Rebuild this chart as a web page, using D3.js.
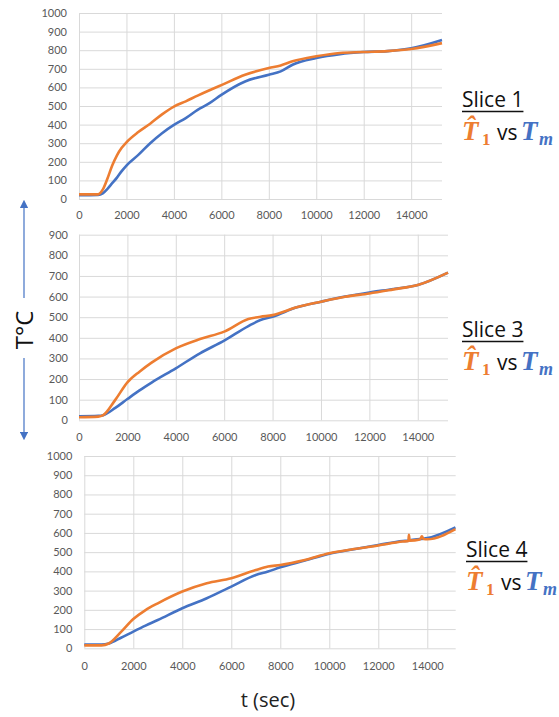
<!DOCTYPE html>
<html>
<head>
<meta charset="utf-8">
<script src="https://cdn.jsdelivr.net/npm/d3@7"></script>
<style>
  html, body { margin: 0; padding: 0; background: #fff; }
  svg { display: block; }
</style>
</head>
<body>
<svg id="chart" width="559" height="717"></svg>
<script>
// Time axis ticks (seconds) shared by all three panels
const timeTicks = [0, 2000, 4000, 6000, 8000, 10000, 12000, 14000];

// Slice 1 — estimated (orange) and measured (blue) temperatures, °C
const slice1Time = [0, 800, 1000, 1200, 1400, 1600, 1800, 2000, 2500, 3000, 3500, 4000, 4500, 5000, 5500, 6000, 7000, 8000, 8500, 9000, 10000, 11000, 12000, 13000, 14000, 15300];
const slice1Est  = [25, 25, 50, 110, 180, 235, 275, 305, 360, 405, 455, 497, 525, 556, 585, 612, 668, 704, 718, 740, 767, 785, 790, 795, 806, 838];
const slice1Meas = [20, 22, 30, 55, 85, 115, 150, 180, 237, 300, 354, 399, 435, 479, 515, 560, 632, 668, 686, 722, 758, 779, 790, 795, 810, 855];

// Slice 3
const slice3Time = [0, 800, 1000, 1500, 2000, 2500, 3000, 4000, 5000, 6000, 7000, 7500, 8000, 9000, 10000, 11000, 12000, 13000, 14000, 15250];
const slice3Est  = [15, 18, 25, 99, 184, 236, 280, 349, 394, 430, 491, 502, 510, 548, 575, 599, 615, 635, 656, 716];
const slice3Meas = [20, 22, 25, 60, 103, 145, 183, 252, 325, 386, 457, 486, 502, 548, 575, 600, 620, 637, 656, 716];

// Slice 4
const slice4Time = [0, 700, 1000, 1500, 2000, 2500, 3000, 4000, 5000, 6000, 7000, 7500, 8000, 9000, 10000, 11000, 12000, 13000, 13230, 13250, 13280, 13700, 13780, 13850, 14000, 15150];
const slice4Est  = [15, 15, 25, 85, 152, 199, 234, 295, 338, 364, 407, 425, 433, 459, 494, 516, 535, 555, 558, 590, 560, 566, 582, 568, 567, 620];
const slice4Meas = [20, 20, 25, 55, 87, 118, 147, 208, 260, 321, 381, 399, 421, 456, 492, 515, 537, 558, 560, 561, 562, 568, 569, 570, 573, 629];

const yTicks1000 = d3.range(0, 1001, 100);
const yTicks900  = d3.range(0, 901, 100);

const ORANGE = "#ED7D31";
const BLUE = "#4472C4";
const GRID = "#d9d9d9";
const TICK_TEXT = "#595959";
const TICK_FONT = "Lato, 'Open Sans', sans-serif";
const MATH_FONT = "'Liberation Serif', 'DejaVu Serif', serif";
const plain = d3.format("d");

const svg = d3.select("#chart");

function panel(cfg) {
  const x = d3.scaleLinear().domain([0, cfg.tMax]).range([cfg.left, cfg.right]);
  const y = d3.scaleLinear().domain([0, cfg.yMax]).range([cfg.bottom, cfg.top]);
  const g = svg.append("g");

  // horizontal gridlines
  g.append("g")
    .attr("transform", `translate(${cfg.left},0)`)
    .call(d3.axisLeft(y).tickValues(cfg.yTicks).tickSize(-(cfg.right - cfg.left)).tickFormat(""))
    .call(a => a.select(".domain").remove())
    .call(a => a.selectAll("line").attr("stroke", GRID).attr("stroke-width", 1));

  // vertical gridlines
  g.append("g")
    .attr("transform", `translate(0,${cfg.bottom})`)
    .call(d3.axisBottom(x).tickValues(timeTicks).tickSize(-(cfg.bottom - cfg.top)).tickFormat(""))
    .call(a => a.select(".domain").remove())
    .call(a => a.selectAll("line").attr("stroke", GRID).attr("stroke-width", 1));

  // y tick labels
  g.append("g")
    .attr("transform", `translate(${cfg.left},0)`)
    .call(d3.axisLeft(y).tickValues(cfg.yTicks).tickSize(0).tickPadding(cfg.yPad).tickFormat(plain))
    .call(a => a.select(".domain").remove())
    .call(a => a.selectAll("text")
      .attr("fill", TICK_TEXT)
      .style("font-family", TICK_FONT)
      .style("font-size", "11px"));

  // x tick labels
  g.append("g")
    .attr("transform", `translate(0,${cfg.bottom})`)
    .call(d3.axisBottom(x).tickValues(timeTicks).tickSize(0).tickPadding(cfg.xPad).tickFormat(plain))
    .call(a => a.select(".domain").remove())
    .call(a => a.selectAll("text")
      .attr("fill", TICK_TEXT)
      .style("font-family", TICK_FONT)
      .style("font-size", "11px"));

  const line = d3.line()
    .x(d => x(d[0]))
    .y(d => y(d[1]))
    .curve(d3.curveMonotoneX);

  const meas = cfg.time.map((t, i) => [t, cfg.meas[i]]);
  const est = cfg.time.map((t, i) => [t, cfg.est[i]]);

  g.append("path").datum(meas)
    .attr("d", line).attr("fill", "none")
    .attr("stroke", BLUE).attr("stroke-width", 2.6).attr("stroke-linejoin", "round");
  g.append("path").datum(est)
    .attr("d", line).attr("fill", "none")
    .attr("stroke", ORANGE).attr("stroke-width", 2.6).attr("stroke-linejoin", "round");

  // slice caption
  const cap = svg.append("g").attr("transform", `translate(${cfg.capX},${cfg.capY})`);
  const title = cap.append("text")
    .attr("x", 0).attr("y", 0)
    .style("font-family", "'Open Sans', Lato, sans-serif")
    .style("font-size", "21px")
    .attr("fill", "#111")
    .text(cfg.title);
  const tw = title.node().getComputedTextLength();
  cap.append("line")
    .attr("x1", 0).attr("x2", tw)
    .attr("y1", 4.5).attr("y2", 4.5)
    .attr("stroke", "#111").attr("stroke-width", 1.4);

  // estimated vs measured legend line
  const base = 33;
  cap.append("text")
    .attr("x", 0).attr("y", base)
    .style("font-family", MATH_FONT)
    .style("font-style", "italic").style("font-weight", "bold")
    .style("font-size", "27px")
    .attr("fill", ORANGE)
    .text("T\u0302");
  cap.append("text")
    .attr("x", 20).attr("y", base + 5)
    .style("font-family", MATH_FONT)
    .style("font-weight", "bold")
    .style("font-size", "17px")
    .attr("fill", ORANGE)
    .text("1");
  cap.append("text")
    .attr("x", 35).attr("y", base)
    .style("font-family", "'Open Sans', Lato, sans-serif")
    .style("font-size", "21px")
    .attr("fill", "#111")
    .text("vs");
  cap.append("text")
    .attr("x", 59).attr("y", base)
    .style("font-family", MATH_FONT)
    .style("font-style", "italic").style("font-weight", "bold")
    .style("font-size", "27px")
    .attr("fill", BLUE)
    .text("T");
  cap.append("text")
    .attr("x", 77).attr("y", base + 5)
    .style("font-family", MATH_FONT)
    .style("font-style", "italic").style("font-weight", "bold")
    .style("font-size", "18px")
    .attr("fill", BLUE)
    .text("m");
}

panel({
  time: slice1Time, est: slice1Est, meas: slice1Meas,
  tMax: 15300, yMax: 1000, yTicks: yTicks1000,
  left: 79, right: 442, top: 13, bottom: 199, yPad: 12, xPad: 12,
  title: "Slice 1", capX: 462, capY: 107
});
panel({
  time: slice3Time, est: slice3Est, meas: slice3Meas,
  tMax: 15250, yMax: 900, yTicks: yTicks900,
  left: 79, right: 448, top: 234.7, bottom: 420.3, yPad: 11, xPad: 13,
  title: "Slice 3", capX: 462, capY: 337
});
panel({
  time: slice4Time, est: slice4Est, meas: slice4Meas,
  tMax: 15160, yMax: 1000, yTicks: yTicks1000,
  left: 84.3, right: 455.7, top: 456, bottom: 648.3, yPad: 12, xPad: 14,
  title: "Slice 4", capX: 466, capY: 557
});

// shared temperature axis label with arrows
const defs = svg.append("defs");
defs.append("marker")
  .attr("id", "arrowHead")
  .attr("viewBox", "0 0 10 10")
  .attr("refX", 5).attr("refY", 5)
  .attr("markerWidth", 7).attr("markerHeight", 7)
  .attr("orient", "auto-start-reverse")
  .append("path").attr("d", "M0,0 L10,5 L0,10 z").attr("fill", BLUE);

svg.append("line")
  .attr("x1", 24).attr("x2", 24).attr("y1", 298).attr("y2", 204)
  .attr("stroke", BLUE).attr("stroke-width", 1.2)
  .attr("marker-end", "url(#arrowHead)");
svg.append("line")
  .attr("x1", 24).attr("x2", 24).attr("y1", 358).attr("y2", 436)
  .attr("stroke", BLUE).attr("stroke-width", 1.2)
  .attr("marker-end", "url(#arrowHead)");

svg.append("text")
  .attr("transform", "translate(33,330) rotate(-90)")
  .attr("text-anchor", "middle")
  .style("font-family", "'Open Sans', Lato, sans-serif")
  .style("font-size", "24px")
  .attr("fill", "#111")
  .text("T°C");

svg.append("text")
  .attr("x", 268).attr("y", 707)
  .attr("text-anchor", "middle")
  .style("font-family", "'Open Sans', Lato, sans-serif")
  .style("font-size", "20px")
  .attr("fill", "#222")
  .text("t (sec)");
</script>
</body>
</html>
